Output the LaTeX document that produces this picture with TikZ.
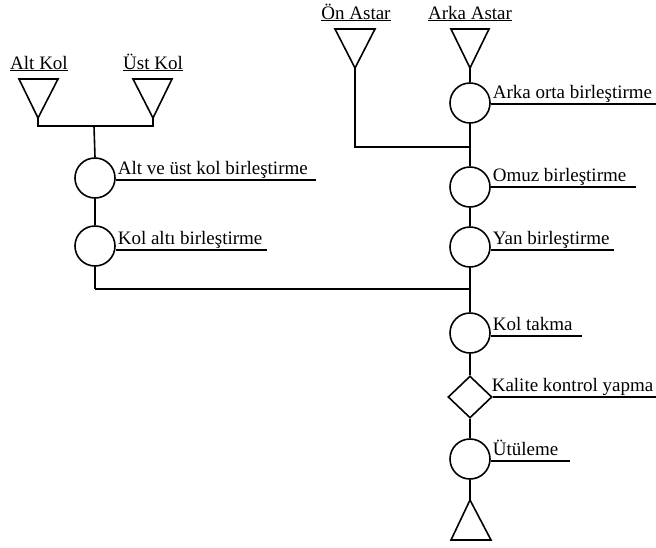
\documentclass[tikz,border=0pt]{standalone}
\usepackage{fontspec}
\setmainfont{Liberation Serif}
\usetikzlibrary{shapes.geometric}
\begin{document}
\begin{tikzpicture}[x=1pt,y=-1pt,line width=1.6pt,
  op/.style={circle,draw,minimum size=40pt,inner sep=0pt},
  insp/.style={diamond,draw,minimum width=44pt,minimum height=42pt,inner sep=0pt},
  lbl/.style={anchor=base west,inner sep=0pt,font=\fontsize{19}{22}\selectfont},
  ttl/.style={anchor=base,inner sep=0pt,font=\fontsize{19}{22}\selectfont},
  tri/.style={line join=miter}]
\useasboundingbox (0,0) rectangle (656,547);

% --- titles
\node[ttl] (taltkol) at (39,69) {\underline{Alt Kol}};
\node[ttl] (tustkol) at (153,69) {\underline{Üst Kol}};
\node[ttl] (tonastar) at (356,19) {\underline{Ön Astar}};
\node[ttl] (tarkaastar) at (470,19) {\underline{Arka Astar}};

% --- input triangles
\coordinate (altapex) at (38,118);
\coordinate (ustapex) at (153,118);
\coordinate (onapex) at (355,68);
\coordinate (arkaapex) at (470,68);
\draw[tri] (19,79) -- (58,79) -- (altapex) -- cycle;
\draw[tri] (133,79) -- (172,79) -- (ustapex) -- cycle;
\draw[tri] (335,29) -- (375,29) -- (onapex) -- cycle;
\draw[tri] (451,29) -- (489,29) -- (arkaapex) -- cycle;

% --- left column
\node[op] (c1) at (95,178) {};
\node[op] (c2) at (95,246) {};
\coordinate (lj) at (94,126);
\coordinate (lb) at (95,289);
\draw (altapex) -- (38,126) -- (153,126) -- (ustapex);
\draw (lj) -- (c1.north);
\draw (c1) -- (c2);
\draw (c2.south) -- (lb);

% --- right column
\node[op] (r1) at (470,103) {};
\node[op] (r2) at (470,187) {};
\node[op] (r3) at (470,247) {};
\node[op] (r4) at (470,333) {};
\node[insp] (r5) at (470,397) {};
\node[op] (r6) at (470,459) {};
\coordinate (sapex) at (470,500);
\draw[tri] (sapex) -- (491,540) -- (451,540) -- cycle;

\coordinate (j1) at (470,147);
\coordinate (j2) at (470,289);
\draw (arkaapex) -- (r1.north);
\draw (r1) -- (j1) -- (r2);
\draw (r2) -- (r3);
\draw (r3) -- (j2) -- (r4);
\draw (r4) -- (r5);
\draw (r5) -- (r6);
\draw (r6) -- (sapex);
\draw (onapex) |- (j1);
\draw (lb) -- (j2);

% --- label lines
\coordinate (e1) at (316,180);
\coordinate (e2) at (267,250);
\coordinate (e3) at (656,104);
\coordinate (e4) at (636,187);
\coordinate (e5) at (614,250);
\coordinate (e6) at (582,336);
\coordinate (e7) at (656,397);
\coordinate (e8) at (570,461);
\draw (c1.east |- e1) -- (e1);
\draw (c2.east |- e2) -- (e2);
\draw (r1.east |- e3) -- (e3);
\draw (r2.east |- e4) -- (e4);
\draw (r3.east |- e5) -- (e5);
\draw (r4.east |- e6) -- (e6);
\draw (r5.east) -- (e7);
\draw (r6.east |- e8) -- (e8);

% --- labels
\node[lbl] (l1) at (117,174) {Alt ve üst kol birleştirme};
\node[lbl] (l2) at (117,244) {Kol altı birleştirme};
\node[lbl] (l3) at (492,98) {Arka orta birleştirme};
\node[lbl] (l4) at (492,181) {Omuz birleştirme};
\node[lbl] (l5) at (492,244) {Yan birleştirme};
\node[lbl] (l6) at (492,330) {Kol takma};
\node[lbl] (l7) at (491,391) {Kalite kontrol yapma};
\node[lbl] (l8) at (492,455) {Ütüleme};
\end{tikzpicture}
\end{document}
